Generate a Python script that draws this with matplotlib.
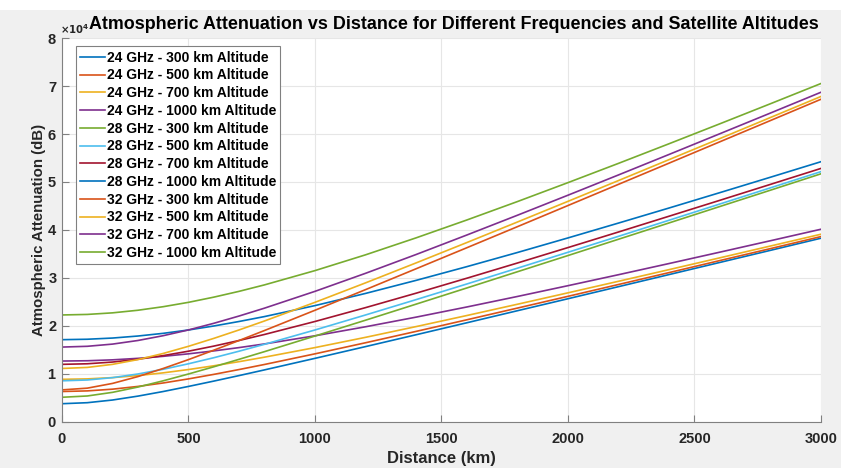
import numpy as np
import matplotlib
matplotlib.use("Agg")
import matplotlib.pyplot as plt
from matplotlib.patches import Rectangle

# distance samples (km), denser near the start where the curves bend
distance = [0, 100, 200, 300, 400, 500, 600, 700, 800, 1000, 1200, 1400, 1600, 1800,
            2000, 2200, 2400, 2600, 2800, 3000]

# attenuation, in units of 1e4 dB
att_24_300 = [0.381, 0.402, 0.458, 0.539, 0.635, 0.741, 0.852, 0.967, 1.085, 1.326, 1.571, 1.818,
              2.067, 2.318, 2.568, 2.820, 3.072, 3.324, 3.576, 3.829]
att_24_500 = [0.635, 0.648, 0.684, 0.741, 0.813, 0.898, 0.992, 1.093, 1.198, 1.420, 1.651, 1.888,
              2.129, 2.373, 2.618, 2.865, 3.113, 3.363, 3.612, 3.863]
att_24_700 = [0.889, 0.898, 0.925, 0.967, 1.024, 1.093, 1.171, 1.257, 1.350, 1.550, 1.764, 1.988,
              2.218, 2.453, 2.691, 2.932, 3.175, 3.420, 3.666, 3.912]
att_24_1000 = [1.270, 1.276, 1.295, 1.326, 1.368, 1.420, 1.481, 1.550, 1.626, 1.796, 1.984, 2.185,
               2.396, 2.615, 2.840, 3.069, 3.302, 3.538, 3.776, 4.016]
att_28_300 = [0.515, 0.542, 0.618, 0.728, 0.858, 1.000, 1.150, 1.306, 1.465, 1.791, 2.121, 2.456,
              2.792, 3.130, 3.468, 3.808, 4.148, 4.489, 4.829, 5.171]
att_28_500 = [0.858, 0.875, 0.924, 1.000, 1.098, 1.213, 1.339, 1.475, 1.618, 1.917, 2.230, 2.550,
              2.875, 3.204, 3.536, 3.869, 4.204, 4.541, 4.878, 5.216]
att_28_700 = [1.201, 1.213, 1.249, 1.306, 1.383, 1.475, 1.581, 1.698, 1.823, 2.094, 2.383, 2.684,
              2.995, 3.312, 3.634, 3.959, 4.288, 4.618, 4.950, 5.283]
att_28_1000 = [1.715, 1.724, 1.749, 1.791, 1.847, 1.917, 2.000, 2.094, 2.196, 2.425, 2.679, 2.951,
               3.236, 3.531, 3.835, 4.145, 4.459, 4.778, 5.099, 5.423]
att_32_300 = [0.669, 0.705, 0.804, 0.946, 1.115, 1.300, 1.496, 1.698, 1.905, 2.328, 2.758, 3.193,
              3.630, 4.069, 4.510, 4.952, 5.394, 5.837, 6.280, 6.724]
att_32_500 = [1.115, 1.137, 1.201, 1.300, 1.428, 1.577, 1.742, 1.918, 2.104, 2.493, 2.899, 3.315,
              3.738, 4.166, 4.597, 5.031, 5.467, 5.904, 6.343, 6.782]
att_32_700 = [1.561, 1.577, 1.623, 1.698, 1.798, 1.918, 2.056, 2.208, 2.371, 2.722, 3.098, 3.490,
              3.895, 4.307, 4.725, 5.148, 5.575, 6.005, 6.436, 6.870]
att_32_1000 = [2.230, 2.241, 2.274, 2.328, 2.402, 2.493, 2.601, 2.722, 2.856, 3.154, 3.483, 3.837,
               4.208, 4.592, 4.987, 5.389, 5.798, 6.212, 6.630, 7.052]

labels = ['24 GHz - 300 km Altitude', '24 GHz - 500 km Altitude', '24 GHz - 700 km Altitude',
          '24 GHz - 1000 km Altitude', '28 GHz - 300 km Altitude', '28 GHz - 500 km Altitude',
          '28 GHz - 700 km Altitude', '28 GHz - 1000 km Altitude', '32 GHz - 300 km Altitude',
          '32 GHz - 500 km Altitude', '32 GHz - 700 km Altitude', '32 GHz - 1000 km Altitude']
series = [att_24_300, att_24_500, att_24_700, att_24_1000,
          att_28_300, att_28_500, att_28_700, att_28_1000,
          att_32_300, att_32_500, att_32_700, att_32_1000]

# matlab default line order
colors = ['#0072BD', '#D95319', '#EDB120', '#7E2F8E', '#77AC30', '#4DBEEE', '#A2142F']

plt.rcParams['font.family'] = ['Liberation Sans', 'DejaVu Sans']
plt.rcParams['font.weight'] = 'bold'

fig = plt.figure(figsize=(8.41, 4.68), dpi=100, facecolor='#f0f0f0')
fig.patches.append(Rectangle((0, 0.978), 1, 0.03, transform=fig.transFigure,
                             facecolor='white', edgecolor='none', zorder=-1))
ax = fig.add_axes([0.0737, 0.0983, 0.9025, 0.8205])

for i, (vals, lab) in enumerate(zip(series, labels)):
    ax.plot(distance, np.array(vals) * 1e4, color=colors[i % len(colors)], lw=1.2, label=lab)

ax.set_xlim(0, 3000)
ax.set_ylim(0, 8e4)
ax.set_xticks(range(0, 3001, 500))
ax.set_yticks(np.arange(0, 8.1e4, 1e4))
ax.ticklabel_format(axis='y', style='sci', scilimits=(4, 4), useMathText=True)

ax.grid(True, color='#e6e6e6', lw=0.8)
ax.set_axisbelow(True)
for s in ['top', 'right']:
    ax.spines[s].set_visible(False)
for s in ['left', 'bottom']:
    ax.spines[s].set_color('#808080')
    ax.spines[s].set_linewidth(0.8)
ax.tick_params(direction='in', length=5, color='#808080', labelsize=10.5, labelcolor='#262626')
ax.tick_params(axis='x', pad=7)

# exponent label placed by hand, matlab style (sits just above the y axis)
ax.yaxis.get_offset_text().set_visible(False)
ax.text(-0.002, 1.004, r'$\times10^{4}$', transform=ax.transAxes, fontsize=7.3,
        ha='left', va='bottom', color='#262626')

ax.set_xlabel('Distance (km)', fontsize=12, fontweight='bold', color='#262626', labelpad=4)
ax.set_ylabel('Atmospheric Attenuation (dB)', fontsize=10.8, fontweight='bold', color='#262626', labelpad=1)
ax.set_title('Atmospheric Attenuation vs Distance for Different Frequencies and Satellite Altitudes',
             fontsize=12.9, fontweight='bold', color='#000000', x=0.516, y=1.024, pad=0)

leg = ax.legend(loc='upper left', bbox_to_anchor=(0.018, 0.978), fontsize=10,
                frameon=True, fancybox=False, framealpha=1, edgecolor='#808080',
                handlelength=1.8, handletextpad=0.15, labelspacing=0.27, borderpad=0.3,
                borderaxespad=0)
leg.get_frame().set_linewidth(0.8)

fig.savefig('out.png', dpi=100, facecolor=fig.get_facecolor())
